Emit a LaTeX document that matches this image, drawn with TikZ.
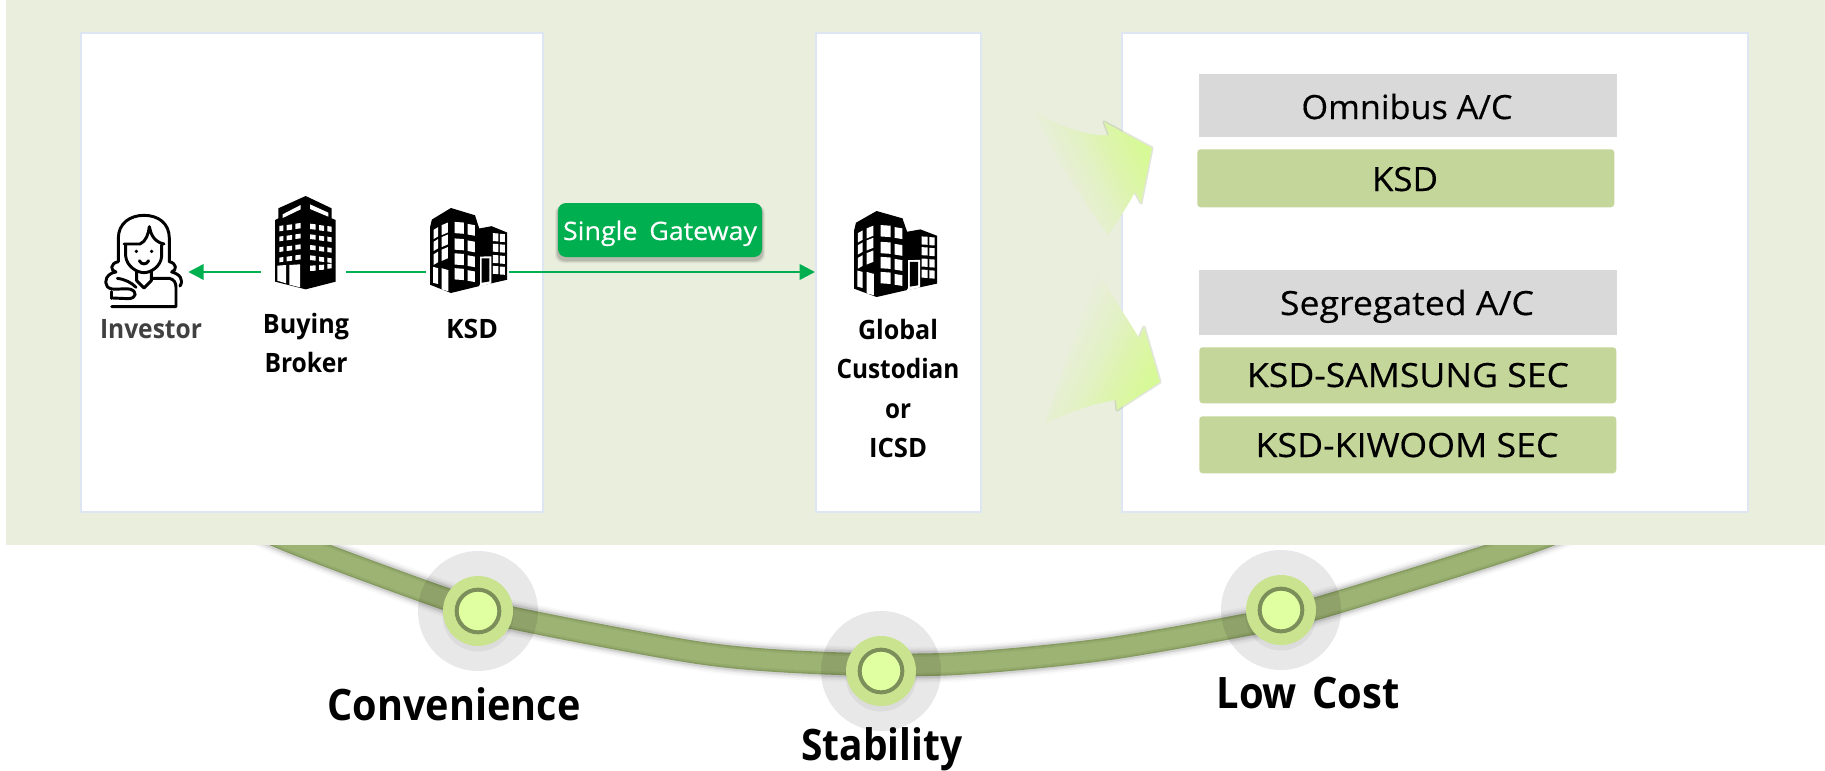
\documentclass[tikz,border=0pt]{standalone}
\usepackage{fontspec}
\usepackage{graphicx}
\setmainfont{Open Sans}
\newfontfamily\medfont[FakeBold=0.35]{Open Sans}
\usetikzlibrary{arrows.meta}
\newdimen\pxu \pxu=0.75pt
\newcommand\fitw[2]{\resizebox{#1\pxu}{\height}{#2}}
\definecolor{bgpanel}{HTML}{E9EEDD}
\definecolor{panelline}{HTML}{DDE6F2}
\definecolor{gatewaygreen}{HTML}{00B050}
\definecolor{greyhead}{HTML}{D9D9D9}
\definecolor{greenrow}{HTML}{C5D69B}
\definecolor{bandmid}{HTML}{9DB374}
\definecolor{bandsoft}{HTML}{94AA6C}
\definecolor{banddark}{HTML}{859A5E}
\definecolor{dotouter}{HTML}{CAE38F}
\definecolor{dotring}{HTML}{7C8F5A}
\definecolor{dotinner}{HTML}{DFFFA0}
\definecolor{arrowlight}{HTML}{D8F998}
\definecolor{arrowmid}{HTML}{DDF4AE}
\pgfdeclarehorizontalshading{fadearrow}{100bp}{
  color(0bp)=(bgpanel); color(35bp)=(bgpanel); color(50bp)=(arrowmid!50!bgpanel); color(60bp)=(arrowmid); color(72bp)=(arrowlight); color(100bp)=(arrowlight)}
\tikzset{
  panel/.style={draw=panelline,line width=1.5pt,fill=white,inner sep=0pt,anchor=north west},
  headbox/.style={fill=greyhead,inner sep=0pt,anchor=north west},
  rowbox/.style={fill=greenrow,rounded corners=2.5pt,inner sep=0pt,anchor=north west},
  lbl/.style={inner sep=0pt,anchor=base,font=\bfseries\fontsize{20}{24}\selectfont},
  rowtxt/.style={inner sep=0pt,anchor=base,font=\medfont\fontsize{25}{30}\selectfont,text=black},
  bigtxt/.style={inner sep=0pt,anchor=base,font=\bfseries\fontsize{32.5}{38}\selectfont,text=black},
  iconbox/.style={inner sep=0pt,minimum height=10pt},
  flow/.style={draw=gatewaygreen,line width=2pt},
  flowtip/.style={flow,-{Triangle[length=11.5pt,width=11.5pt]}},
  halo/.style={circle,fill=black,fill opacity=.09,inner sep=0pt,minimum size=90pt},
  dotout/.style={circle,fill=dotouter,inner sep=0pt,minimum size=52.5pt},
  dotmid/.style={circle,fill=dotinner,draw=dotring,line width=3pt,inner sep=0pt,minimum size=32pt},
  win/.style={fill=white},
}
\newcommand\winq[5]{\fill[win] (#1,#2) -- (#3,#2+#5) -- (#3,#4+#5) -- (#1,#4) -- cycle;}
\newcommand\officeicon{%
  \fill[black] (0,59) -- (6,35) -- (68,0) -- (146,22) -- (160,62) -- (200,55) -- (250,74) -- (250,217) -- (156,237) -- (68,257) -- (0,232) -- cycle;
  \foreach \ya/\yb in {64/92,100/128,138/170}{
    \winq{12}{\ya+2}{26}{\yb+2}{-8}
    \winq{38}{\ya-12}{58}{\yb-10}{-8}
  }
  \winq{10}{178}{26}{226}{4}
  \winq{38}{182}{60}{246}{6}
  \foreach \ya/\yb in {42/76,92/126,137/171,182/216}{
    \winq{80}{\ya}{110}{\yb}{2}
    \winq{122}{\ya+6}{146}{\yb+4}{4}
  }
  \foreach \ya/\yb in {76/100,108/132,142/166,175/199}{
    \winq{204}{\ya}{222}{\yb}{1}
    \winq{227}{\ya+2}{243}{\yb+2}{1}
  }
  \fill[white] (163,147) -- (199,146) -- (199,228) -- (158,238) -- (163,230) -- cycle;
  \fill[black] (168,152) -- (193,152) -- (193,222) -- (168,226) -- cycle;
}
\newcommand\brokericon{%
  \fill[black] (737,138) -- (815,175) -- (815,205) -- (827,210) -- (827,395) -- (737,418) -- (645,395) -- (645,210) -- (655,205) -- (655,175) -- cycle;
  \fill[white] (668,193) -- (722,165) -- (722,178) -- (668,204) -- cycle;
  \fill[white] (750,163) -- (805,188) -- (805,200) -- (750,177) -- cycle;
  \foreach \ya/\yb in {228/244,260/274,292/306,323/337}{
    \winq{658}{\ya}{670}{\yb}{-2}
    \winq{680}{\ya-3}{696}{\yb-3}{-2}
    \winq{706}{\ya-7}{722}{\yb-7}{-2}
    \winq{750}{\ya-7}{767}{\yb-7}{2}
    \winq{777}{\ya-3}{792}{\yb-3}{2}
    \winq{802}{\ya}{815}{\yb}{2}
  }
  \winq{750}{347}{767}{363}{-1}
  \winq{777}{345}{792}{360}{-1}
  \winq{802}{342}{815}{356}{-1}
  \fill[white] (652,347) -- (678,345) -- (678,400) -- (652,392) -- cycle;
  \fill[white] (688,345) -- (720,343) -- (720,412) -- (688,404) -- cycle;
}
\begin{document}
\begin{tikzpicture}[x=0.75pt,y=-0.75pt]
\useasboundingbox (0,0) rectangle (1825,771);
\fill[white] (0,0) rectangle (1825,771);
% curved band
\def\bandpath{(238,518) (299,545) (443,598) (513,618) (700,653) (821,663) (950,664) (1100,650) (1245,625) (1315,609) (1522,545) (1590,518)}
\foreach \w/\o in {27/.025,24.5/.035,22/.05,20/.08}{
  \draw[black,opacity=\o,line width=\w pt] plot[smooth,tension=.5] coordinates {\bandpath};
}
\draw[banddark,line width=17pt] plot[smooth,tension=.5] coordinates {\bandpath};
\draw[bandsoft,line width=15pt] plot[smooth,tension=.5] coordinates {\bandpath};
\draw[bandmid,line width=12pt] plot[smooth,tension=.5] coordinates {\bandpath};
% panel
\fill[bgpanel] (6,0) rectangle (1825,545);
\node[panel,minimum width=346.5pt,minimum height=359pt] (leftbox) at (80,32) {};
\node[panel,minimum width=123.5pt,minimum height=359pt] (midbox) at (815,32) {};
\node[panel,minimum width=469.5pt,minimum height=359pt] (rightbox) at (1121,32) {};
% glow arrows
\draw[dotring,opacity=.22,line width=2.4pt,line join=round] (1109,135) -- (1104,122) -- (1152,148) -- (1141,203) -- (1135,192);
\shade[shading=fadearrow,shading angle=25] (1035,112) .. controls (1065,130) and (1095,137) .. (1109,135) -- (1104,122) -- (1152,148) -- (1141,203) -- (1135,192) .. controls (1128,205) and (1120,218) .. (1108,235) .. controls (1085,205) and (1055,160) .. (1035,112) -- cycle;
\draw[dotring,opacity=.22,line width=2.4pt,line join=round] (1139,338) -- (1144,327) -- (1160,382) -- (1117,410) -- (1116,400);
\shade[shading=fadearrow,shading angle=-25] (1098,272) .. controls (1112,295) and (1128,320) .. (1139,338) -- (1144,327) -- (1160,382) -- (1117,410) -- (1116,400) .. controls (1095,403) and (1068,412) .. (1045,424) .. controls (1060,380) and (1080,320) .. (1098,272) -- cycle;
% right side rows
\node[headbox,minimum width=313.5pt,minimum height=47.25pt] (omnibus) at (1199,74) {};
\node[rowbox,minimum width=312.75pt,minimum height=43.5pt] (ksdrow) at (1197,149) {};
\node[headbox,minimum width=313.5pt,minimum height=48.75pt] (segregated) at (1199,270) {};
\node[rowbox,minimum width=312.75pt,minimum height=42pt] (samsung) at (1199,347) {};
\node[rowbox,minimum width=312.75pt,minimum height=42.75pt] (kiwoom) at (1199,416) {};
\node[rowtxt] (tomn) at (1407,119) {\fitw{211}{Omnibus A/C}};
\node[rowtxt] (tksd) at (1405,191) {\fitw{66}{KSD}};
\node[rowtxt] (tseg) at (1407,315) {\fitw{254}{Segregated A/C}};
\node[rowtxt] (tsam) at (1408,387) {\fitw{322}{KSD-SAMSUNG SEC}};
\node[rowtxt] (tkiw) at (1407,457) {\fitw{303}{KSD-KIWOOM SEC}};
% icon anchors on the flow line
\node[iconbox,minimum width=82.5pt] (investor) at (133,272) {};
\node[iconbox,minimum width=63.75pt] (broker) at (303.5,272) {};
\node[iconbox,minimum width=62.25pt] (ksd) at (467.5,272) {};
\draw[flowtip] (broker.west) -- (investor.east);
\draw[flow] (broker.east) -- (ksd.west);
\draw[flowtip] (ksd.east) -- (ksd.east -| midbox.west);
% investor icon
\begin{scope}[shift={(60,150)},x=0.25pt,y=-0.25pt,line width=2.2pt,line cap=round,line join=round,black]
\draw (175,335) -- (175,265) .. controls (175,220) and (210,196) .. (252,196) .. controls (295,196) and (328,220) .. (328,265) -- (328,335);
\draw (175,335) .. controls (150,340) and (150,362) .. (168,366) .. controls (140,370) and (130,395) .. (142,410) .. controls (155,425) and (190,412) .. (212,418) .. controls (232,425) and (230,445) .. (205,446) -- (158,444);
\draw (172,385) .. controls (195,388) and (215,398) .. (228,412);
\draw (328,335) .. controls (350,340) and (352,360) .. (335,366) .. controls (360,372) and (372,390) .. (360,408);
\draw (192,282) -- (240,282) .. controls (258,275) and (266,250) .. (268,230) .. controls (272,250) and (280,275) .. (312,282);
\draw (197,285) -- (197,318) .. controls (200,350) and (232,368) .. (252,368) .. controls (272,368) and (303,350) .. (305,318) -- (305,285);
\fill (229,304) circle (5.5);
\fill (275,304) circle (5.5);
\draw (238,332) .. controls (244,345) and (260,345) .. (266,332);
\draw (230,365) -- (230,392) -- (252,414) -- (274,392) -- (274,365);
\draw (274,385) -- (328,385) .. controls (342,388) and (348,398) .. (348,412) -- (348,470) -- (155,470);
\draw (155,425) -- (155,445);
\end{scope}
% broker icon
\begin{scope}[shift={(60,150)},x=0.25pt,y=-0.25pt]
\brokericon
\end{scope}
% KSD and custodian icons
\begin{scope}[shift={(430,208)},x=0.231pt,y=-0.248pt]
\officeicon
\end{scope}
\begin{scope}[shift={(854,211)},x=0.249pt,y=-0.251pt]
\officeicon
\end{scope}
% labels
\node[lbl,text=black!75] (tinv) at (151,338) {\fitw{102}{Investor}};
\node[lbl] (tbuy) at (306,333) {\fitw{86}{Buying}};
\node[lbl] (tbro) at (306,372) {\fitw{83}{Broker}};
\node[lbl] (tk) at (472,338) {\fitw{52}{KSD}};
\node[lbl] (tglo) at (898,339) {\fitw{80}{Global}};
\node[lbl] (tcus) at (898,378) {\fitw{123}{Custodian}};
\node[lbl] (tor) at (898,418) {\fitw{26}{or}};
\node[lbl] (ticsd) at (898,457) {\fitw{58}{ICSD}};
% gateway button
\foreach \g/\o in {3/.05,2/.08,1/.1}{
  \fill[black,opacity=\o,rounded corners=6pt] (558-\g,205) rectangle (762+\g,260+\g);
}
\node[fill=gatewaygreen,rounded corners=6pt,inner sep=0pt,minimum width=153pt,minimum height=40.5pt] (gateway) at (660,230) {};
\node[inner sep=0pt,anchor=base,text=white,font=\medfont\fontsize{19}{23}\selectfont] (tgate) at (660,240) {\fitw{194}{Single\hspace{.18em} Gateway}};
% milestone dots
\foreach \n/\cx/\cy in {one/478/611,two/881/671,three/1281/610}{
  \node[halo] (halo\n) at (\cx,\cy) {};
  \fill[black,opacity=.05] (\cx,\cy+5) circle (35.5);
  \node[dotout] (out\n) at (\cx,\cy) {};
  \node[dotmid] (dot\n) at (\cx,\cy) {};
}
\node[bigtxt] (tcon) at (454,720) {\fitw{253}{Convenience}};
\node[bigtxt] (tsta) at (882,760) {\fitw{161}{Stability}};
\node[bigtxt] (tlow) at (1308,708) {\fitw{183}{Low\hspace{.12em} Cost}};
\end{tikzpicture}
\end{document}
